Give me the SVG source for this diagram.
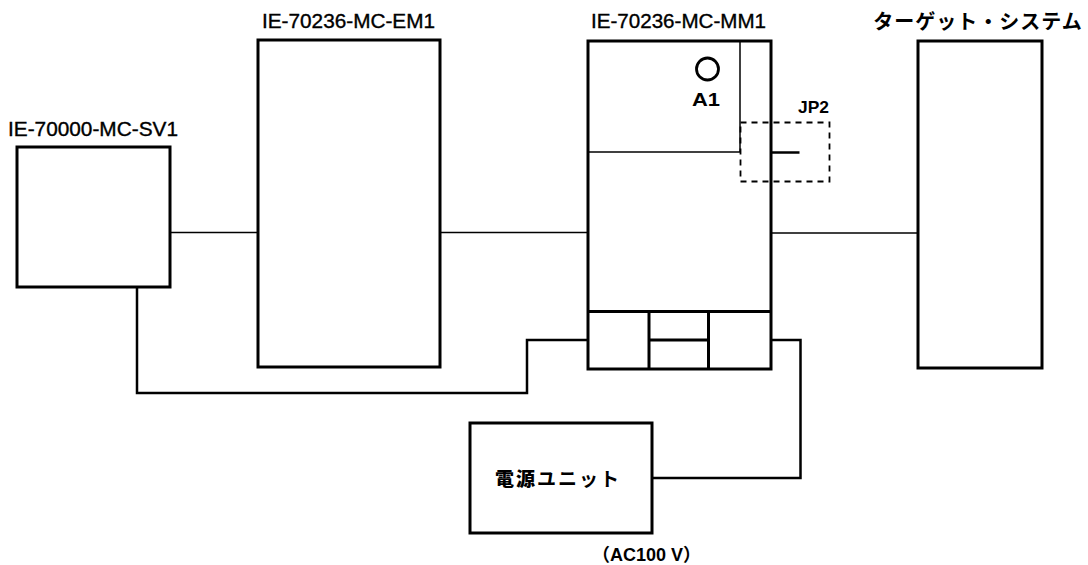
<svg xmlns="http://www.w3.org/2000/svg" width="1088" height="565" viewBox="0 0 1088 565">
<style>
.box{fill:none;stroke:#000;stroke-width:3}
.thin{fill:none;stroke:#000;stroke-width:1.5}
.wire{fill:none;stroke:#000;stroke-width:2.5}
.lbl{font-family:"Liberation Sans",Arial,sans-serif;font-size:19.5px;fill:#000;stroke:#000;stroke-width:0.35}
.jp{font-family:"Noto Sans CJK JP","Noto Sans CJK SC",sans-serif;fill:#000}
.b{font-family:"Liberation Sans",Arial,sans-serif;font-weight:bold;font-size:17px;fill:#000}
</style>
<rect width="1088" height="565" fill="#fff"/>
<g id="connectors">
<line class="thin" x1="170" y1="232.5" x2="258" y2="232.5"/>
<line class="thin" x1="440" y1="232.5" x2="588" y2="232.5"/>
<line class="thin" x1="771" y1="233" x2="918" y2="233"/>
<polyline class="wire" points="137,287 137,393 527,393 527,340 588,340"/>
<polyline class="wire" points="771,340 800.5,340 800.5,478 652,478"/>
</g>
<g id="sv1">
<rect class="box" x="17" y="147" width="153" height="140"/>
<text class="lbl" x="8" y="136" textLength="170" lengthAdjust="spacingAndGlyphs">IE-70000-MC-SV1</text>
</g>
<g id="em1">
<rect class="box" x="258" y="40" width="182" height="327"/>
<text class="lbl" x="262" y="28" textLength="173" lengthAdjust="spacingAndGlyphs">IE-70236-MC-EM1</text>
</g>
<g id="mm1">
<rect class="box" x="588" y="41" width="183" height="328"/>
<line class="thin" x1="740" y1="41" x2="740" y2="152"/>
<line class="thin" x1="588" y1="152" x2="740" y2="152"/>
<line class="box" x1="588" y1="311.5" x2="771" y2="311.5"/>
<line class="box" x1="649" y1="311.5" x2="649" y2="369"/>
<line class="box" x1="708.5" y1="311.5" x2="708.5" y2="369"/>
<line class="box" x1="649" y1="340" x2="708.5" y2="340"/>
<circle cx="707.5" cy="69" r="11" fill="none" stroke="#000" stroke-width="2.8"/>
<text class="b" x="692" y="106" font-size="18" style="font-size:18px" textLength="28" lengthAdjust="spacingAndGlyphs">A1</text>
<text class="lbl" x="591" y="28" textLength="175" lengthAdjust="spacingAndGlyphs">IE-70236-MC-MM1</text>
</g>
<g id="jp2">
<rect x="740.5" y="122.5" width="89" height="59" fill="none" stroke="#000" stroke-width="1.8" stroke-dasharray="6,5"/>
<line x1="771" y1="152.5" x2="799.5" y2="152.5" stroke="#000" stroke-width="2.5"/>
<text class="b" x="798" y="113" textLength="31" lengthAdjust="spacingAndGlyphs">JP2</text>
</g>
<g id="target">
<rect class="box" x="918" y="41" width="124" height="327"/>
<text class="jp" x="978" y="29" text-anchor="middle" font-size="20" font-weight="bold" letter-spacing="1">ターゲット・システム</text>
</g>
<g id="power">
<rect class="box" x="470" y="423" width="182" height="110"/>
<text class="jp" x="558" y="486" text-anchor="middle" font-size="19" letter-spacing="2"><tspan font-weight="900">電源</tspan><tspan font-weight="bold">ユニット</tspan></text>
<text class="b" x="592" y="561" style="font-size:18px"><tspan class="jp">（</tspan>AC100 V<tspan class="jp">）</tspan></text>
</g>
</svg>
